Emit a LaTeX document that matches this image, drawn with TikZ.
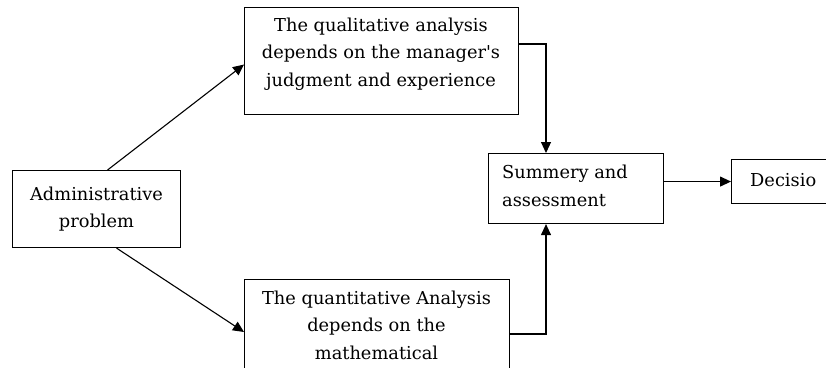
\documentclass[tikz,border=0pt]{standalone}
\usepackage{fontspec}
\setmainfont{DejaVu Serif}
\usetikzlibrary{arrows.meta,calc}
\begin{document}
\begin{tikzpicture}[x=1pt,y=-1pt,
  box/.style={draw,line width=1.1pt,inner sep=0pt,anchor=north west},
  txt/.style={inner sep=0pt,font=\fontsize{17.8}{27.5}\selectfont},
  arr/.style={line width=1.1pt,-{Triangle[length=11pt,width=10pt]}}]
\useasboundingbox (0,0) rectangle (826,367);
\clip (0,0) rectangle (826,367);
% boxes
\node[box,minimum width=168pt,minimum height=77pt] (adm) at (12,170) {};
\node[box,minimum width=274pt,minimum height=107pt] (qual) at (244,7) {};
\node[box,minimum width=265pt,minimum height=110pt] (quan) at (244,279) {};
\node[box,minimum width=175pt,minimum height=70pt] (sum) at (488,153) {};
\node[box,minimum width=110pt,minimum height=44pt] (dec) at (731,159) {};
% texts
\node[txt,align=center] (admt) at (adm.center) {Administrative\\problem};
\node[txt,align=center] (qualt) at (381,54) {The qualitative analysis\\depends on the manager\textquotesingle s\\judgment and experience};
\node[txt,align=center] (quant) at (376.5,325) {The quantitative Analysis\\depends on the\\mathematical};
\node[txt,align=left,anchor=west] (sumt) at (502,186) {Summery and\\assessment};
\node[txt,anchor=west] (dect) at (750,180) {Decisio};
% connectors
\draw[arr] ([xshift=11pt]adm.north) -- ([yshift=-3.5pt]qual.west);
\draw[arr] ([xshift=20pt]adm.south) -- ($(quan.north west)+(0,53)$);
\draw[arr] ($(qual.north east)+(0,37)$) -| ($(sum.north west)+(58,0)$);
\draw[arr] ($(quan.north east)+(0,55)$) -| ($(sum.south west)+(58,0)$);
\draw[arr] (sum.east |- dec.west) -- (dec.west);
\end{tikzpicture}
\end{document}
